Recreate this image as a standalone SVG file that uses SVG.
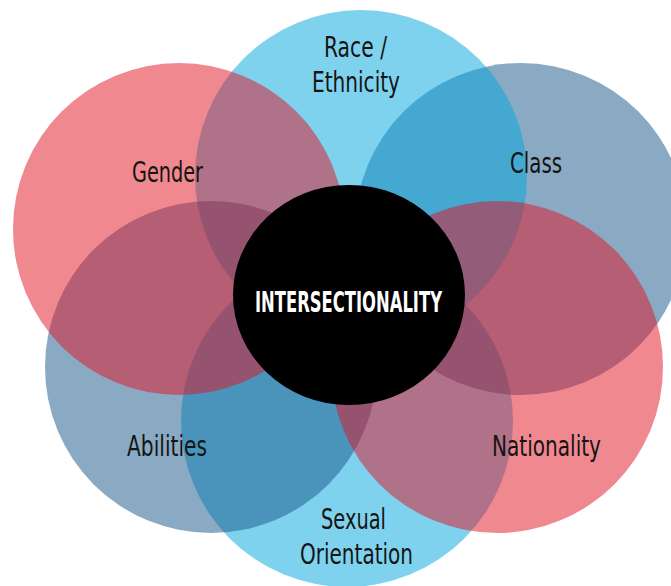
<svg xmlns="http://www.w3.org/2000/svg" width="671" height="586" viewBox="0 0 671 586">
  <style>
    .red { fill: #e11121; fill-opacity: 0.5; }
    .lblue { fill: #00a5dd; fill-opacity: 0.5; }
    .sblue { fill: #155589; fill-opacity: 0.5; }
    .lbl { font-family: "Liberation Sans Narrow", "DejaVu Sans Condensed", "Liberation Sans", sans-serif; font-size: 29px; fill: #141414; }
    .center { font-family: "Liberation Sans Narrow", "DejaVu Sans Condensed", "Liberation Sans", sans-serif; font-size: 29px; font-weight: bold; fill: #ffffff; }
  </style>
  <rect width="671" height="586" fill="#ffffff"/>
  <g id="sexual-orientation"><circle class="lblue" cx="347" cy="421" r="166"/></g>
  <g id="class"><circle class="sblue" cx="521" cy="229" r="166"/></g>
  <g id="race-ethnicity"><circle class="lblue" cx="361" cy="176" r="166"/></g>
  <g id="abilities"><circle class="sblue" cx="211" cy="367" r="166"/></g>
  <g id="gender"><circle class="red" cx="179" cy="229" r="166"/></g>
  <g id="nationality"><circle class="red" cx="497" cy="367" r="166"/></g>
  <g id="intersectionality"><ellipse cx="349" cy="295" rx="116" ry="110" fill="#000000"/>
    <text class="center" x="255" y="312" textLength="187" lengthAdjust="spacingAndGlyphs">INTERSECTIONALITY</text></g>
  <g id="labels">
    <text class="lbl" x="324" y="57" textLength="63" lengthAdjust="spacingAndGlyphs">Race /</text>
    <text class="lbl" x="312" y="92" textLength="88" lengthAdjust="spacingAndGlyphs">Ethnicity</text>
    <text class="lbl" x="132" y="182" textLength="71" lengthAdjust="spacingAndGlyphs">Gender</text>
    <text class="lbl" x="510" y="173" textLength="52" lengthAdjust="spacingAndGlyphs">Class</text>
    <text class="lbl" x="127" y="456" textLength="80" lengthAdjust="spacingAndGlyphs">Abilities</text>
    <text class="lbl" x="492" y="456" textLength="109" lengthAdjust="spacingAndGlyphs">Nationality</text>
    <text class="lbl" x="321" y="529" textLength="65" lengthAdjust="spacingAndGlyphs">Sexual</text>
    <text class="lbl" x="300" y="564" textLength="113" lengthAdjust="spacingAndGlyphs">Orientation</text>
  </g>
  <g id="connectors"/>
</svg>
